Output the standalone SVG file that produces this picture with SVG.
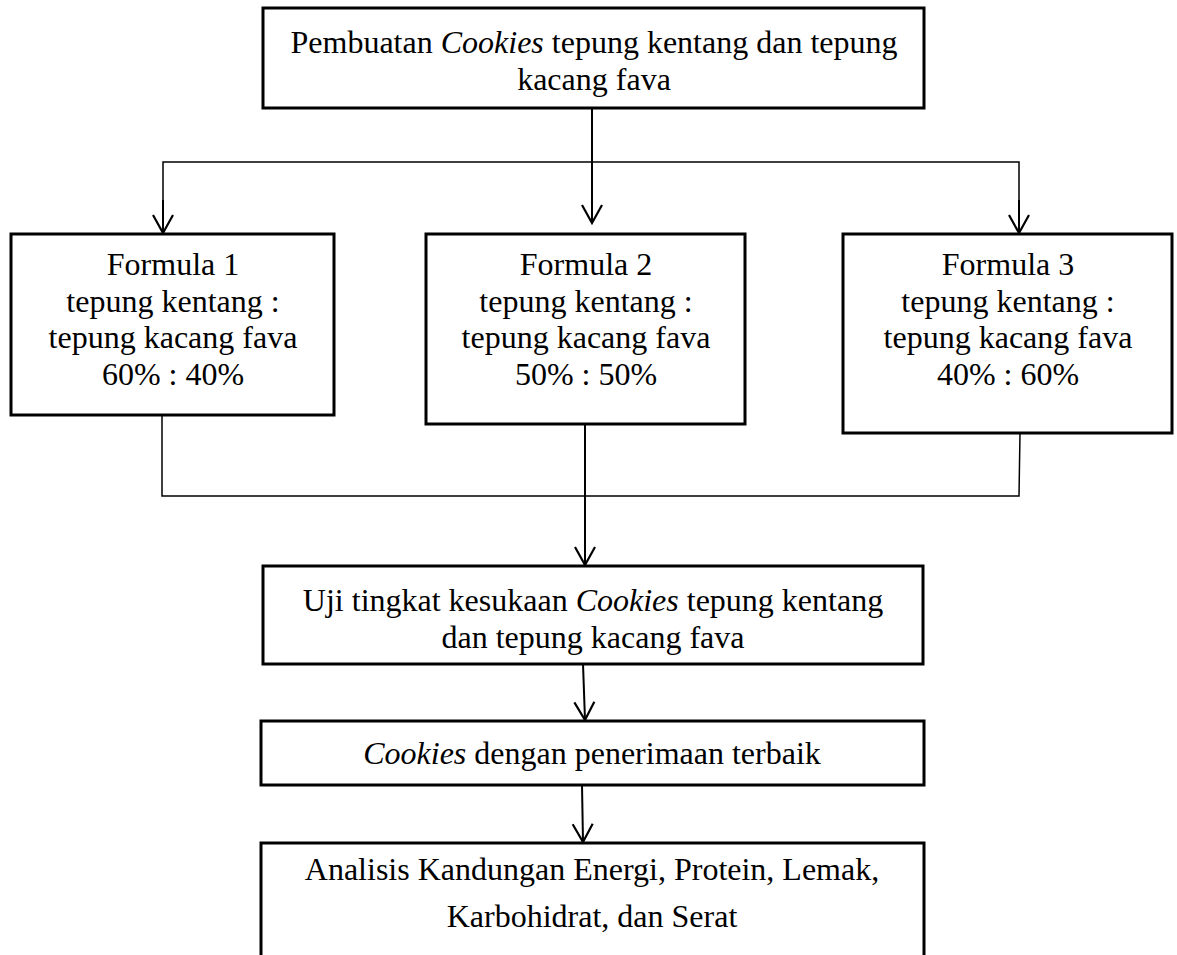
<svg xmlns="http://www.w3.org/2000/svg" width="1177" height="955" viewBox="0 0 1177 955">
<style>
.box{fill:#fff;stroke:#000;stroke-width:3}
.t{font-family:"Liberation Serif","Times New Roman",serif;font-size:32px;fill:#000;text-anchor:middle}
.i{font-style:italic}
.c{fill:none;stroke:#000;stroke-width:2}
.thin{fill:none;stroke:#000;stroke-width:1.5}
</style>
<defs>
<marker id="arr" markerUnits="userSpaceOnUse" viewBox="-20 -12 22 24" refX="0" refY="0" markerWidth="22" markerHeight="24" orient="auto">
<path d="M-18,-10 L0,0 L-18,10" fill="none" stroke="#000" stroke-width="2.2"/>
</marker>
</defs>
<rect width="1177" height="955" fill="#fff"/>
<g id="connectors">
<line class="c" x1="592" y1="109" x2="592" y2="223" marker-end="url(#arr)"/>
<polyline class="thin" points="163,233 163,162 1019,162 1019,233"/>
<line class="c" x1="163" y1="200" x2="163" y2="233" marker-end="url(#arr)"/>
<line class="c" x1="1019" y1="200" x2="1019" y2="233" marker-end="url(#arr)"/>
<polyline class="thin" points="162,415 162,496 1019,496 1020,433"/>
<line class="c" x1="585" y1="424" x2="585" y2="565" marker-end="url(#arr)"/>
<line class="c" x1="583" y1="664" x2="585" y2="720" marker-end="url(#arr)"/>
<line class="c" x1="582" y1="785" x2="583" y2="842" marker-end="url(#arr)"/>
</g>
<g id="n-start">
<rect class="box" x="263" y="8" width="661" height="100"/>
<text class="t" x="594" y="53">Pembuatan <tspan class="i">Cookies</tspan> tepung kentang dan tepung</text>
<text class="t" x="594" y="90">kacang fava</text>
</g>
<g id="n-f1">
<rect class="box" x="11" y="234" width="323" height="181"/>
<text class="t" x="173" y="275">Formula 1</text>
<text class="t" x="173" y="312">tepung kentang :</text>
<text class="t" x="173" y="348">tepung kacang fava</text>
<text class="t" x="173" y="385">60% : 40%</text>
</g>
<g id="n-f2">
<rect class="box" x="426" y="234" width="319" height="190"/>
<text class="t" x="586" y="275">Formula 2</text>
<text class="t" x="586" y="312">tepung kentang :</text>
<text class="t" x="586" y="348">tepung kacang fava</text>
<text class="t" x="586" y="385">50% : 50%</text>
</g>
<g id="n-f3">
<rect class="box" x="843" y="234" width="329" height="199"/>
<text class="t" x="1008" y="275">Formula 3</text>
<text class="t" x="1008" y="312">tepung kentang :</text>
<text class="t" x="1008" y="348">tepung kacang fava</text>
<text class="t" x="1008" y="385">40% : 60%</text>
</g>
<g id="n-uji">
<rect class="box" x="263" y="566" width="660" height="98"/>
<text class="t" x="593" y="611">Uji tingkat kesukaan <tspan class="i">Cookies</tspan> tepung kentang</text>
<text class="t" x="593" y="648">dan tepung kacang fava</text>
</g>
<g id="n-best">
<rect class="box" x="261" y="721" width="663" height="64"/>
<text class="t" x="592" y="764"><tspan class="i">Cookies</tspan> dengan penerimaan terbaik</text>
</g>
<g id="n-analisis">
<rect class="box" x="261" y="843" width="663" height="130"/>
<text class="t" x="592" y="880">Analisis Kandungan Energi, Protein, Lemak,</text>
<text class="t" x="592" y="927">Karbohidrat, dan Serat</text>
</g>
</svg>
